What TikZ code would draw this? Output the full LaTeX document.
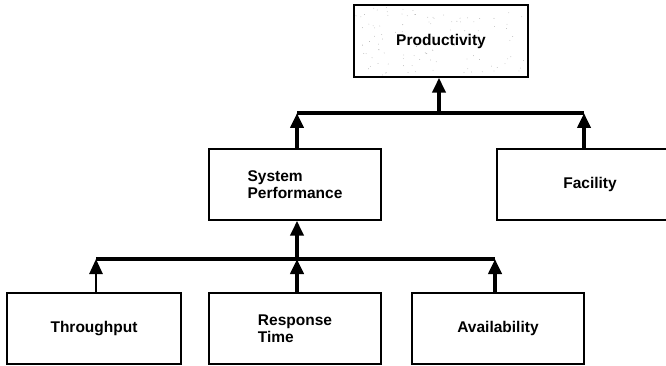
\documentclass[tikz,border=0pt]{standalone}
\usepackage{fontspec}
\setmainfont{Liberation Sans}
\usetikzlibrary{arrows.meta}
\begin{document}
\begin{tikzpicture}[x=1pt,y=-1pt,
  box/.style={draw=black, line width=1.4pt, inner sep=0pt, minimum height=71pt,
    font=\fontsize{15.5}{17}\selectfont\bfseries},
  bus/.style={line width=4pt},
  up/.style={line width=4pt, -{Triangle[width=13pt,length=15pt]}},
  speck/.style={fill=black!35}
]
\useasboundingbox (0,0) rectangle (666,366);
% speckled background of the top box
\pgfmathsetseed{7}
\foreach \i in {1,...,110}{\fill[speck] ({356+rnd*170},{7+rnd*68}) circle (0.4pt);}
% boxes
\node[box, minimum width=174pt, minimum height=72pt] (prod) at (441,41) {Productivity};
\node[box, minimum width=172pt, align=left] (sp) at (295,184.5) {System\\Performance};
\node[box, minimum width=186pt] (fac) at (590,184.5) {Facility};
\node[box, minimum width=174pt] (thr) at (94,328.5) {Throughput};
\node[box, minimum width=172pt, align=left] (resp) at (295,328.5) {Response\\Time};
\node[box, minimum width=172pt] (avail) at (498,328.5) {Availability};
% upper bus
\coordinate (tl) at (297,113);
\coordinate (tp) at (439,113);
\coordinate (tr) at (584,113);
\draw[bus] (tl) -- (tr);
\draw[up] (sp.north -| tl) -- (tl);
\draw[up] (fac.north -| tr) -- (tr);
\draw[up] (tp) -- (prod.south -| tp);
% lower bus
\coordinate (bl) at (96,259);
\coordinate (bm) at (297,259);
\coordinate (br) at (495,259);
\draw[bus] (bl) -- (br);
\draw[up] (bm) -- (sp.south -| bm);
\draw[up, line width=2.6pt] (thr.north -| bl) -- (bl);
\draw[up] (resp.north -| bm) -- (bm);
\draw[up] (avail.north -| br) -- (br);
\end{tikzpicture}
\end{document}
